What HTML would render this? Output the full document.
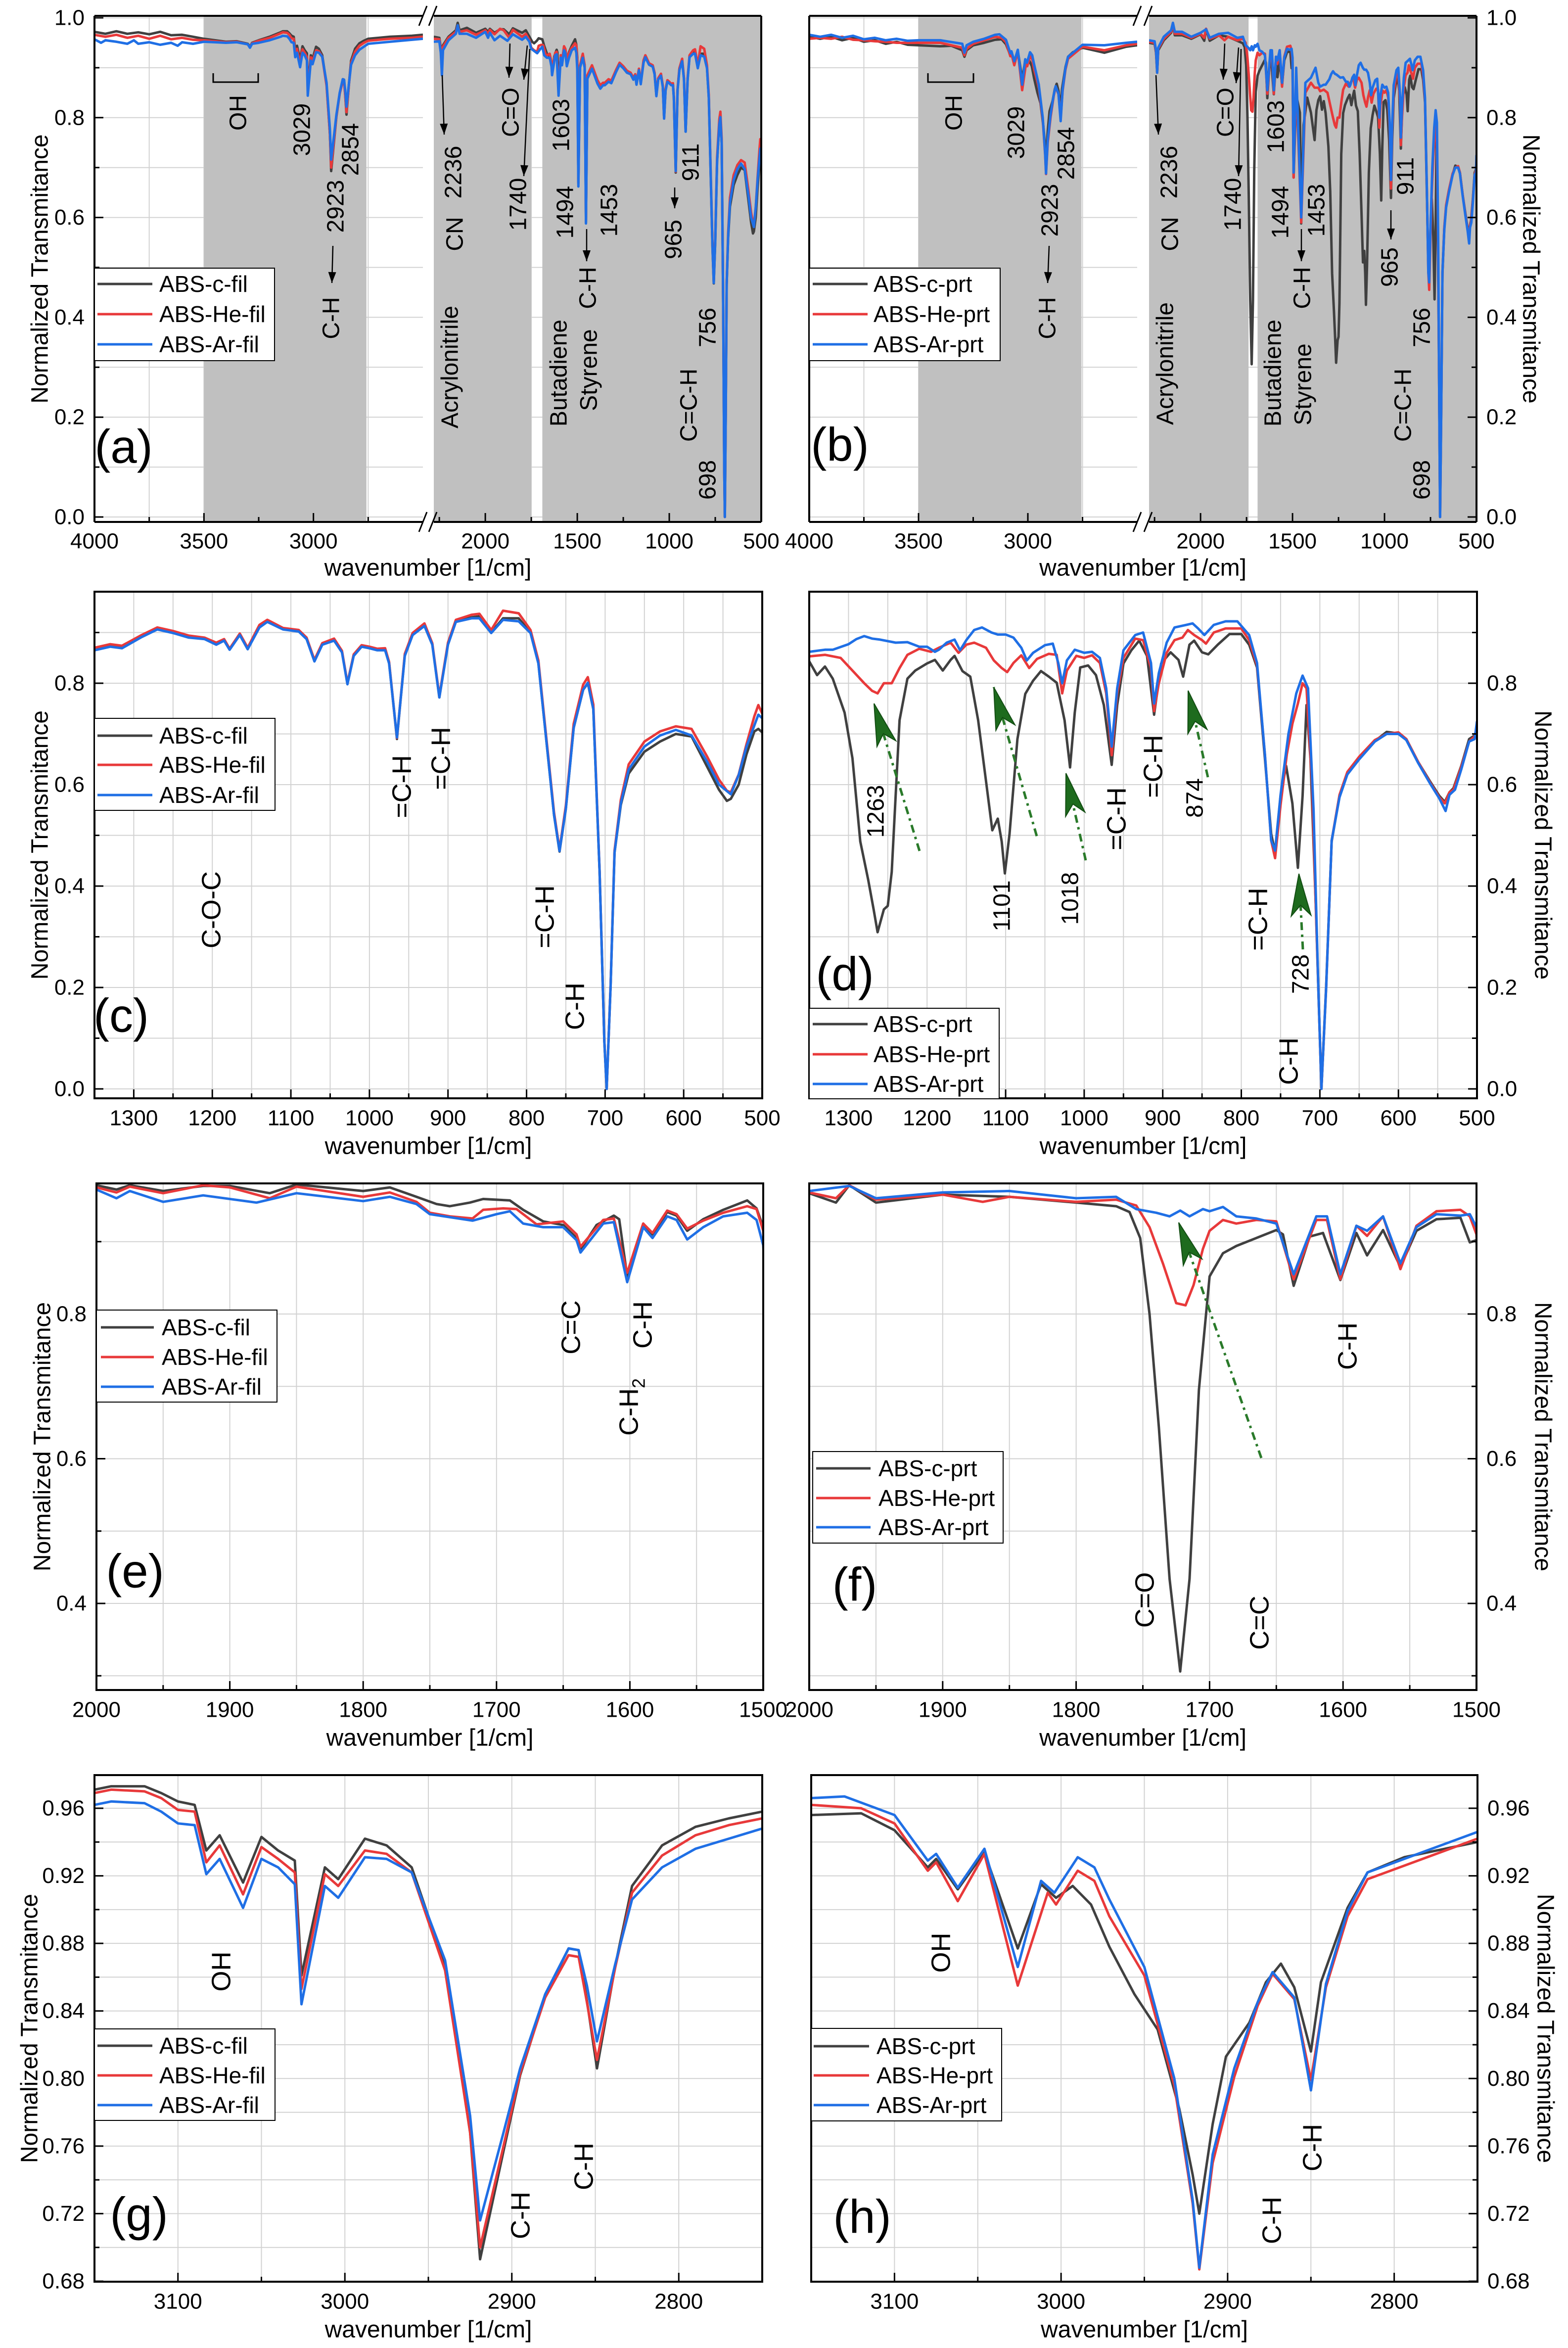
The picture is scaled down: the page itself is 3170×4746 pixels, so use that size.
<!DOCTYPE html>
<html>
<head>
<meta charset="utf-8">
<style>
  html,body{margin:0;padding:0;background:#fff;}
  svg{display:block;font-family:"Liberation Sans",Arial,sans-serif;}
</style>
</head>
<body>
<svg id="chart" xmlns="http://www.w3.org/2000/svg" width="3170" height="4746" viewBox="0 0 3170 4746">
  <rect x="0" y="0" width="3170" height="4746" fill="#fff"/>
  <defs id="defs"></defs>
</svg>
<script>
// ---------------- DATA: [wavenumber (1/cm), normalized transmittance] ----------------
const filC = [[4000,.972],[3950,.968],[3900,.973],[3850,.968],[3800,.971],[3750,.967],[3700,.972],[3650,.965],[3600,.966],[3550,.962],[3500,.958],[3450,.955],[3400,.952],[3350,.953],[3300,.948],[3290,.942],[3280,.95],[3250,.955],[3200,.962],[3150,.971],[3140,.973],[3120,.973],[3110,.969],[3100,.964],[3090,.962],[3083,.935],[3075,.944],[3061,.916],[3050,.943],[3040,.935],[3030,.929],[3026,.861],[3012,.925],[3004,.918],[2988,.942],[2975,.938],[2960,.925],[2940,.867],[2925,.768],[2919,.693],[2905,.757],[2895,.802],[2880,.849],[2866,.877],[2860,.876],[2855,.846],[2849,.806],[2838,.867],[2828,.914],[2810,.938],[2790,.949],[2770,.954],[2750,.958],[2650,.962],[2550,.964],[2500,.966],
[2280,.962],[2250,.96],[2242,.94],[2236,.895],[2230,.945],[2200,.962],[2160,.975],[2150,.99],[2140,.975],[2100,.98],[2050,.97],
[2000,.978],[1985,.972],[1975,.978],[1950,.970],[1920,.977],[1900,.977],[1870,.967],[1850,.979],[1800,.970],[1780,.975],[1760,.962],[1745,.952],[1735,.949],[1720,.954],[1710,.959],[1690,.957],[1680,.944],[1665,.928],[1650,.923],[1640,.905],[1637,.889],[1625,.923],[1612,.936],[1608,.931],[1602,.852],[1590,.925],[1583,.910],[1572,.941],[1565,.936],[1557,.915],[1545,.931],[1530,.944],[1512,.957],[1505,.946],[1500,.920],
[1494,.67],[1485,.905],[1470,.925],[1460,.905],[1453,.59],[1445,.88],[1420,.9],[1390,.872],[1375,.862],[1360,.868],
[1350,.868],[1330,.875],[1315,.872],[1290,.894],[1270,.909],[1250,.902],[1230,.893],[1210,.889],[1195,.878],[1185,.886],[1178,.868],[1165,.897],[1155,.869],[1140,.912],[1130,.923],[1110,.908],[1090,.904],[1080,.889],[1070,.845],[1060,.878],[1045,.886],[1035,.863],[1028,.80],[1020,.856],[1010,.874],[1000,.871],[990,.867],[980,.867],[975,.841],[965,.69],[955,.856],[945,.897],[930,.915],[920,.878],[911,.772],[900,.878],[890,.922],[870,.93],[860,.932],[845,.9],[830,.928],[810,.928],[795,.9],[785,.84],[775,.69],[765,.54],[758,.468],[750,.552],[740,.712],[728,.787],[722,.80],[715,.749],[707,.428],[701,.093],[698,0.0],[693,.204],[688,.466],[680,.56],[670,.622],[650,.665],[630,.685],[610,.70],[590,.695],[570,.635],[555,.59],[545,.568],[540,.572],[530,.6],[520,.66],[510,.705],[505,.71],[500,.703]];

const filHe = [[4000,.966],[3950,.962],[3900,.966],[3850,.960],[3800,.964],[3750,.958],[3700,.964],[3650,.957],[3600,.960],[3550,.956],[3500,.955],[3450,.953],[3400,.951],[3350,.952],[3300,.947],[3290,.941],[3280,.949],[3250,.954],[3200,.960],[3150,.969],[3140,.971],[3120,.970],[3110,.966],[3100,.959],[3090,.958],[3083,.928],[3075,.938],[3061,.909],[3050,.937],[3040,.930],[3030,.922],[3026,.853],[3012,.921],[3004,.914],[2988,.935],[2975,.933],[2960,.922],[2940,.864],[2925,.768],[2919,.700],[2905,.760],[2895,.803],[2880,.848],[2866,.873],[2860,.872],[2855,.845],[2849,.811],[2838,.866],[2828,.910],[2810,.932],[2790,.944],[2770,.950],[2750,.954],[2650,.958],[2550,.960],[2500,.962],
[2280,.958],[2250,.957],[2242,.937],[2236,.89],[2230,.942],[2200,.96],[2160,.972],[2150,.985],[2140,.972],[2100,.975],[2050,.966],
[2000,.975],[1985,.968],[1975,.976],[1950,.967],[1920,.978],[1900,.975],[1870,.960],[1850,.976],[1800,.962],[1780,.968],[1760,.955],[1750,.940],[1735,.935],[1718,.932],[1710,.944],[1695,.946],[1685,.945],[1670,.924],[1650,.928],[1640,.910],[1637,.893],[1620,.930],[1612,.932],[1602,.857],[1590,.925],[1583,.912],[1572,.943],[1565,.938],[1557,.918],[1545,.929],[1530,.940],[1512,.949],[1505,.945],[1500,.915],
[1494,.668],[1485,.905],[1470,.928],[1460,.905],[1453,.595],[1445,.885],[1420,.905],[1390,.875],[1375,.865],[1360,.870],
[1350,.870],[1330,.877],[1315,.874],[1290,.895],[1270,.910],[1250,.903],[1230,.894],[1210,.890],[1195,.880],[1185,.887],[1178,.868],[1165,.898],[1155,.870],[1140,.915],[1130,.925],[1110,.909],[1090,.905],[1080,.890],[1070,.846],[1060,.879],[1045,.888],[1035,.864],[1028,.80],[1020,.857],[1010,.875],[1000,.872],[990,.868],[980,.869],[975,.842],[965,.692],[955,.858],[945,.899],[930,.918],[920,.879],[911,.775],[900,.880],[890,.925],[870,.935],[860,.937],[845,.905],[830,.943],[810,.938],[795,.905],[785,.845],[775,.695],[765,.545],[758,.472],[750,.558],[740,.72],[728,.797],[722,.812],[715,.758],[707,.43],[701,.095],[698,0.0],[693,.206],[688,.47],[680,.57],[670,.64],[650,.685],[630,.705],[610,.715],[590,.71],[570,.655],[555,.61],[545,.588],[540,.585],[530,.62],[520,.68],[510,.735],[505,.757],[500,.74]];

const filAr = [[4000,.957],[3970,.950],[3950,.955],[3900,.952],[3850,.948],[3820,.955],[3800,.948],[3750,.951],[3700,.946],[3650,.950],[3620,.944],[3600,.951],[3550,.948],[3500,.952],[3450,.951],[3400,.950],[3350,.951],[3300,.947],[3290,.940],[3280,.948],[3250,.950],[3200,.955],[3150,.962],[3140,.964],[3120,.963],[3110,.958],[3100,.951],[3090,.950],[3083,.921],[3075,.930],[3061,.901],[3050,.930],[3040,.925],[3030,.915],[3026,.844],[3012,.914],[3004,.907],[2988,.931],[2975,.930],[2960,.922],[2940,.870],[2925,.778],[2919,.716],[2905,.768],[2895,.806],[2880,.850],[2866,.877],[2860,.876],[2855,.855],[2849,.822],[2838,.868],[2828,.906],[2810,.925],[2790,.936],[2770,.942],[2750,.948],[2650,.952],[2550,.956],[2500,.958],
[2280,.952],[2250,.953],[2242,.93],[2236,.885],[2230,.935],[2200,.955],[2160,.968],[2150,.985],[2140,.968],[2100,.968],[2050,.96],
[2000,.972],[1985,.960],[1975,.970],[1950,.955],[1920,.964],[1880,.954],[1850,.967],[1800,.956],[1780,.962],[1760,.952],[1750,.938],[1718,.929],[1700,.938],[1690,.942],[1680,.925],[1665,.920],[1650,.920],[1640,.902],[1637,.885],[1620,.925],[1612,.927],[1602,.844],[1590,.920],[1583,.905],[1572,.935],[1565,.930],[1557,.903],[1545,.920],[1530,.935],[1512,.940],[1505,.930],[1500,.895],
[1494,.662],[1485,.90],[1470,.92],[1460,.90],[1453,.588],[1445,.878],[1420,.898],[1390,.868],[1375,.858],[1360,.865],
[1350,.865],[1330,.872],[1315,.869],[1290,.891],[1270,.906],[1250,.899],[1230,.890],[1210,.887],[1195,.876],[1185,.884],[1178,.866],[1165,.895],[1155,.867],[1140,.910],[1130,.921],[1110,.906],[1090,.902],[1080,.887],[1070,.843],[1060,.876],[1045,.884],[1035,.861],[1028,.798],[1020,.854],[1010,.872],[1000,.869],[990,.865],[980,.865],[975,.839],[965,.693],[955,.854],[945,.895],[930,.913],[920,.876],[911,.772],[900,.876],[890,.921],[870,.928],[860,.928],[845,.899],[830,.925],[810,.922],[795,.899],[785,.839],[775,.690],[765,.540],[758,.469],[750,.552],[740,.712],[728,.787],[722,.801],[715,.749],[707,.428],[701,.093],[698,0.0],[693,.204],[688,.466],[680,.563],[670,.630],[650,.675],[630,.697],[610,.708],[590,.697],[570,.645],[555,.600],[540,.581],[530,.619],[520,.675],[505,.738],[500,.731]];

const prtC = [[4000,.962],[3950,.958],[3900,.962],[3850,.955],[3800,.96],[3750,.952],[3700,.955],[3650,.948],[3600,.952],[3550,.946],[3500,.945],[3450,.944],[3400,.943],[3350,.944],[3300,.935],[3290,.922],[3280,.935],[3250,.945],[3200,.95],[3150,.956],[3120,.957],[3100,.947],[3080,.925],[3075,.930],[3062,.912],[3046,.934],[3026,.877],[3012,.915],[3003,.907],[2993,.914],[2982,.903],[2971,.878],[2956,.850],[2942,.829],[2929,.782],[2921,.743],[2917,.720],[2909,.773],[2901,.813],[2887,.833],[2877,.857],[2868,.868],[2860,.854],[2850,.816],[2844,.857],[2828,.901],[2816,.922],[2794,.931],[2750,.940],[2650,.93],[2550,.942],[2500,.945],
[2280,.95],[2250,.948],[2242,.93],[2236,.89],[2230,.935],[2200,.955],[2160,.97],[2150,.985],[2140,.965],[2100,.965],[2050,.958],
[2000,.967],[1980,.954],[1970,.978],[1950,.954],[1900,.965],[1850,.962],[1800,.954],[1770,.949],[1760,.941],[1752,.905],[1745,.80],[1738,.643],[1730,.434],[1722,.306],[1715,.434],[1708,.695],[1700,.852],[1690,.884],[1680,.894],[1665,.905],[1650,.916],[1645,.910],[1637,.839],[1625,.907],[1615,.912],[1602,.847],[1590,.912],[1582,.881],[1570,.916],[1557,.865],[1545,.915],[1530,.931],[1512,.933],[1505,.899],[1500,.902],
[1494,.68],[1480,.846],[1460,.81],[1453,.588],[1440,.785],[1420,.84],[1400,.81],[1380,.755],[1370,.815],[1360,.835],
[1350,.843],[1340,.816],[1330,.833],[1320,.809],[1305,.742],[1295,.652],[1285,.488],[1275,.413],[1268,.354],[1263,.309],[1255,.354],[1250,.361],[1245,.428],[1240,.578],[1235,.727],[1225,.809],[1215,.825],[1200,.839],[1190,.846],[1180,.825],[1170,.846],[1165,.854],[1155,.824],[1145,.813],[1135,.727],[1125,.607],[1117,.510],[1110,.533],[1105,.488],[1101,.425],[1095,.503],[1085,.690],[1075,.779],[1065,.805],[1055,.824],[1045,.813],[1035,.801],[1030,.764],[1025,.727],[1018,.634],[1012,.742],[1005,.831],[995,.835],[985,.816],[975,.757],[965,.639],[958,.757],[950,.839],[940,.865],[930,.884],[920,.854],[911,.738],[902,.839],[890,.861],[880,.846],[874,.813],[866,.876],[860,.884],[850,.861],[842,.857],[830,.876],[815,.897],[800,.897],[790,.876],[780,.831],[770,.652],[762,.503],[757,.466],[750,.578],[743,.637],[735,.563],[728,.436],[722,.578],[717,.757],[712,.652],[705,.354],[698,0.0],[692,.204],[685,.488],[675,.578],[665,.622],[650,.652],[630,.686],[615,.704],[600,.701],[590,.690],[575,.645],[560,.607],[548,.578],[541,.566],[535,.585],[530,.593],[520,.637],[510,.690],[503,.697],[500,.712]];

const prtHe = [[4000,.958],[3950,.96],[3900,.958],[3850,.962],[3800,.956],[3750,.955],[3700,.953],[3650,.952],[3600,.950],[3550,.950],[3500,.950],[3400,.950],[3300,.94],[3290,.925],[3280,.938],[3250,.948],[3200,.955],[3150,.962],[3120,.960],[3100,.951],[3080,.923],[3075,.928],[3062,.905],[3046,.933],[3026,.855],[3008,.910],[3003,.903],[2990,.923],[2980,.917],[2971,.896],[2950,.861],[2932,.796],[2921,.726],[2917,.687],[2909,.750],[2896,.801],[2882,.843],[2873,.862],[2860,.847],[2850,.799],[2841,.854],[2828,.896],[2816,.918],[2750,.942],[2650,.935],[2550,.945],[2500,.948],
[2280,.952],[2250,.95],[2242,.932],[2236,.89],[2230,.938],[2200,.958],[2160,.972],[2150,.988],[2140,.968],[2100,.968],[2050,.96],
[2000,.968],[1980,.960],[1970,.978],[1950,.958],[1900,.965],[1870,.955],[1850,.962],[1800,.955],[1770,.958],[1755,.950],[1745,.920],[1735,.870],[1725,.815],[1718,.812],[1712,.840],[1705,.890],[1700,.915],[1690,.930],[1680,.925],[1665,.930],[1650,.928],[1637,.848],[1620,.930],[1612,.930],[1602,.848],[1590,.922],[1582,.908],[1570,.935],[1557,.862],[1545,.922],[1530,.942],[1512,.944],[1505,.935],[1500,.910],
[1494,.68],[1480,.88],[1453,.59],[1430,.85],[1400,.87],[1380,.86],[1360,.86],
[1350,.853],[1330,.856],[1310,.850],[1295,.825],[1280,.80],[1270,.785],[1263,.78],[1255,.80],[1245,.80],[1235,.83],[1225,.856],[1210,.868],[1195,.862],[1185,.87],[1170,.88],[1160,.86],[1150,.876],[1140,.880],[1125,.870],[1115,.845],[1105,.83],[1098,.822],[1090,.84],[1080,.855],[1070,.83],[1060,.848],[1045,.858],[1035,.856],[1028,.78],[1022,.825],[1010,.854],[1000,.850],[990,.855],[980,.840],[972,.78],[965,.658],[958,.78],[950,.85],[935,.888],[925,.885],[915,.83],[911,.745],[905,.80],[895,.86],[885,.885],[875,.890],[868,.905],[860,.895],[850,.885],[845,.878],[835,.90],[820,.908],[800,.908],[790,.885],[780,.835],[770,.66],[762,.49],[757,.455],[750,.56],[742,.66],[735,.72],[728,.76],[722,.80],[717,.79],[710,.60],[705,.35],[698,0.0],[692,.2],[685,.49],[675,.58],[665,.625],[650,.655],[630,.688],[615,.70],[600,.703],[590,.69],[575,.645],[560,.605],[548,.575],[541,.563],[535,.585],[530,.59],[520,.635],[510,.685],[503,.695],[500,.712]];

const prtAr = [[4000,.966],[3950,.962],[3900,.966],[3850,.960],[3800,.964],[3750,.957],[3700,.960],[3650,.955],[3600,.958],[3550,.954],[3500,.955],[3400,.955],[3300,.948],[3290,.93],[3280,.945],[3250,.952],[3200,.958],[3150,.966],[3130,.967],[3100,.956],[3080,.929],[3075,.933],[3062,.913],[3046,.936],[3026,.866],[3012,.917],[3004,.910],[2990,.931],[2980,.925],[2971,.906],[2950,.866],[2932,.80],[2921,.728],[2917,.688],[2909,.755],[2896,.806],[2882,.845],[2873,.863],[2860,.848],[2850,.793],[2841,.856],[2828,.899],[2816,.922],[2750,.946],[2650,.945],[2550,.95],[2500,.952],
[2280,.955],[2250,.953],[2242,.935],[2236,.89],[2230,.94],[2200,.962],[2160,.975],[2150,.99],[2140,.972],[2100,.972],[2050,.962],
[2000,.970],[1970,.977],[1950,.960],[1900,.968],[1850,.970],[1800,.960],[1770,.962],[1755,.945],[1740,.940],[1730,.935],[1722,.943],[1715,.935],[1705,.945],[1700,.942],[1690,.948],[1680,.935],[1665,.932],[1650,.925],[1637,.855],[1620,.935],[1612,.935],[1602,.855],[1590,.922],[1582,.915],[1570,.935],[1557,.870],[1545,.920],[1530,.938],[1512,.936],[1505,.938],[1500,.920],
[1494,.69],[1480,.90],[1453,.60],[1430,.87],[1400,.88],[1375,.90],[1360,.87],
[1350,.862],[1330,.866],[1320,.866],[1300,.877],[1290,.887],[1280,.893],[1270,.888],[1260,.886],[1240,.880],[1225,.881],[1210,.872],[1200,.872],[1190,.862],[1185,.866],[1175,.880],[1165,.886],[1158,.865],[1150,.885],[1140,.905],[1130,.91],[1118,.900],[1110,.896],[1100,.896],[1090,.890],[1080,.87],[1073,.845],[1065,.86],[1050,.875],[1040,.878],[1033,.84],[1028,.80],[1022,.845],[1012,.866],[1000,.860],[990,.862],[980,.85],[972,.79],[965,.675],[958,.79],[950,.865],[935,.895],[925,.90],[915,.84],[911,.76],[905,.82],[895,.88],[885,.910],[870,.915],[862,.918],[855,.908],[847,.895],[835,.915],[820,.922],[805,.922],[790,.895],[780,.84],[770,.66],[762,.49],[757,.47],[750,.58],[740,.70],[730,.78],[722,.815],[715,.79],[708,.55],[702,.20],[698,0.0],[692,.2],[685,.49],[675,.575],[665,.62],[650,.65],[630,.685],[615,.70],[600,.70],[590,.688],[575,.643],[560,.603],[548,.573],[540,.548],[535,.58],[528,.59],[520,.63],[510,.685],[503,.69],[500,.725]];

const seriesColors = ['#404040','#e8393a','#1f6fe5'];
const filNames = ['ABS-c-fil','ABS-He-fil','ABS-Ar-fil'];
const prtNames = ['ABS-c-prt','ABS-He-prt','ABS-Ar-prt'];

// tick label arrays
const ticksY01 = [0,0.2,0.4,0.6,0.8,1.0];
const ticksYC = [0,0.2,0.4,0.6,0.8];
const ticksYE = [0.4,0.6,0.8];
const ticksYG = [0.68,0.72,0.76,0.80,0.84,0.88,0.92,0.96];
const ticksXA_left = [4000,3500,3000];
const ticksXA_right = [2000,1500,1000,500];
const ticksXC = [1300,1200,1100,1000,900,800,700,600,500];
const ticksXE = [2000,1900,1800,1700,1600,1500];
const ticksXG = [3100,3000,2900,2800];

// ---------------- helpers ----------------
const NS = 'http://www.w3.org/2000/svg';
const svg = document.getElementById('chart');
const defs = document.getElementById('defs');
function mk(tag, attrs, parent){
  const e = document.createElementNS(NS, tag);
  for (const k in attrs) e.setAttribute(k, attrs[k]);
  (parent||svg).appendChild(e);
  return e;
}
function txt(str, x, y, size, anchor, parent){
  const t = mk('text', {x:x, y:y, 'font-size':size, 'text-anchor':anchor||'middle', 'dominant-baseline':'central', fill:'#000'}, parent);
  t.textContent = str;
  return t;
}
function rotTxt(str, cx, cy, size, parent){
  const x = cx + 0.36*size;
  const t = mk('text', {x:x, y:cy, 'font-size':size, 'text-anchor':'middle', fill:'#000', transform:'rotate(-90 '+x+' '+cy+')'}, parent);
  t.textContent = str;
  return t;
}
function rotTxtR(str, cx, cy, size, parent){
  const x = cx - 0.36*size;
  const t = mk('text', {x:x, y:cy, 'font-size':size, 'text-anchor':'middle', fill:'#000', transform:'rotate(90 '+x+' '+cy+')'}, parent);
  t.textContent = str;
  return t;
}
function fmt(v, d){ return v.toFixed(d); }

// ---------------- layout ----------------
const L = {
  a:{x0:191,x1:1539,y0:32,y1:1055,va:0,ya:1045,vb:1,yb:36,side:'l',seg:true,lEnd:855,rStart:877,
     gray:[[3500,2758],[2280,1750],[1690,500]], data:[filC,filHe,filAr], names:filNames, tickY:ticksY01, ydec:1,
     minY:[0.1,0.3,0.5,0.7,0.9], tickLblY:1094, titleY:1148, yTitleX:79},
  b:{x0:1636,x1:2985,y0:32,y1:1055,va:0,ya:1045,vb:1,yb:36,side:'r',seg:true,lEnd:2299,rStart:2323,
     gray:[[3500,2755],[2280,1739],[1690,500]], data:[prtC,prtHe,prtAr], names:prtNames, tickY:ticksY01, ydec:1,
     minY:[0.1,0.3,0.5,0.7,0.9], tickLblY:1094, titleY:1148, yTitleX:3097},
  c:{x0:191,x1:1541,y0:1196,y1:2220,va:0,ya:2201,vb:0.8,yb:1381,side:'l',wmax:1350,wmin:500,
     data:[filC,filHe,filAr], names:filNames, tickY:ticksYC, ydec:1, minY:[0.1,0.3,0.5,0.7,0.9], tickX:ticksXC, minStep:50,
     tickLblY:2260, titleY:2317, yTitleX:79},
  d:{x0:1636,x1:2986,y0:1196,y1:2220,va:0,ya:2201,vb:0.8,yb:1381,side:'r',wmax:1350,wmin:500,
     data:[prtC,prtHe,prtAr], names:prtNames, tickY:ticksYC, ydec:1, minY:[0.1,0.3,0.5,0.7,0.9], tickX:ticksXC, minStep:50,
     tickLblY:2260, titleY:2317, yTitleX:3121},
  e:{x0:195,x1:1543,y0:2392,y1:3416,va:0.4,ya:3241,vb:0.8,yb:2656,side:'l',wmax:2000,wmin:1500,
     data:[filC,filHe,filAr], names:filNames, tickY:ticksYE, ydec:1, minY:[0.3,0.5,0.7,0.9], tickX:ticksXE, minStep:50,
     tickLblY:3456, titleY:3513, yTitleX:84},
  f:{x0:1636,x1:2985,y0:2392,y1:3416,va:0.4,ya:3241,vb:0.8,yb:2656,side:'r',wmax:2000,wmin:1500,
     data:[prtC,prtHe,prtAr], names:prtNames, tickY:ticksYE, ydec:1, minY:[0.3,0.5,0.7,0.9], tickX:ticksXE, minStep:50,
     tickLblY:3456, titleY:3513, yTitleX:3121},
  g:{x0:191,x1:1541,y0:3588,y1:4612,va:0.68,ya:4611,vb:0.96,yb:3655,side:'l',wmax:3150,wmin:2750,
     data:[filC,filHe,filAr], names:filNames, tickY:ticksYG, ydec:2, minY:[0.70,0.74,0.78,0.82,0.86,0.90,0.94,0.98], tickX:ticksXG, minStep:50,
     tickLblY:4652, titleY:4709, yTitleX:58},
  h:{x0:1640,x1:2987,y0:3588,y1:4612,va:0.68,ya:4611,vb:0.96,yb:3655,side:'r',wmax:3150,wmin:2750,
     data:[prtC,prtHe,prtAr], names:prtNames, tickY:ticksYG, ydec:2, minY:[0.70,0.74,0.78,0.82,0.86,0.90,0.94,0.98], tickX:ticksXG, minStep:50,
     tickLblY:4652, titleY:4709, yTitleX:3126}
};

function yScale(p, v){ return p.ya + (v - p.va)*(p.yb - p.ya)/(p.vb - p.va); }
function xScale(p, w){
  if (p.seg){
    if (w >= 2390) return p.x0 + (4000 - w)*(p.lEnd - p.x0)/1500;
    return p.x1 - (w - 500)*(p.x1 - p.rStart)/1780;
  }
  return p.x0 + (p.wmax - w)*(p.x1 - p.x0)/(p.wmax - p.wmin);
}

function gridLineV(p, x, g){
  const l = mk('line',{x1:x,y1:p.y0,x2:x,y2:p.y1,stroke:'#d2d2d2','stroke-width':2},g);
  
  
}
function gridLineH(p, y, x0, x1, g){
  const l = mk('line',{x1:x0,y1:y,x2:x1,y2:y,stroke:'#d2d2d2','stroke-width':2},g);
  
  
}

function drawPanel(key){
  const p = L[key];
  const g = mk('g',{});
  
  

  const cp = mk('clipPath',{id:'clip-'+key},defs);
  if (p.seg){
    mk('rect',{x:p.x0,y:p.y0,width:p.lEnd-p.x0,height:p.y1-p.y0},cp);
    mk('rect',{x:p.rStart,y:p.y0,width:p.x1-p.rStart,height:p.y1-p.y0},cp);
  } else {
    mk('rect',{x:p.x0,y:p.y0,width:p.x1-p.x0,height:p.y1-p.y0},cp);
  }

  const gg = mk('g',{},g);
  
  
  const allY = p.tickY.concat(p.minY);
  allY.forEach(v=>{
    const y = yScale(p,v);
    if (y < p.y0 || y > p.y1) return;
    if (p.seg){ gridLineH(p,y,p.x0,p.lEnd,gg); gridLineH(p,y,p.rStart,p.x1,gg); }
    else gridLineH(p,y,p.x0,p.x1,gg);
  });
  let xMaj=[], xMin=[];
  if (p.seg){
    xMaj = ticksXA_left.concat(ticksXA_right);
    xMin = [3750,3250,2750,2250,1750,1250,750];
  } else {
    xMaj = p.tickX;
    for (let w = p.wmax; w >= p.wmin; w -= p.minStep){ if (xMaj.indexOf(w) < 0) xMin.push(w); }
  }
  xMaj.concat(xMin).forEach(w=>{
    const x = xScale(p,w);
    if (x <= p.x0+1 || x >= p.x1-1) return;
    gridLineV(p,x,gg);
  });

  if (p.gray){
    p.gray.forEach(r=>{
      const xa = xScale(p,r[0]), xb = xScale(p,r[1]);
      const s = mk('rect',{x:xa,y:p.y0,width:xb-xa,height:p.y1-p.y0,fill:'#c0c0c0'},g);
      
      
    });
  }

  const sg = mk('g',{'clip-path':'url(#clip-'+key+')'},g);
  
  
  p.data.forEach((arr,i)=>{
    let parts = [];
    if (p.seg){
      parts.push(arr.filter(d=>d[0]>=2400));
      parts.push(arr.filter(d=>d[0]<=2300));
    } else {
      let idx = [];
      arr.forEach((d,j)=>{ if (d[0] <= p.wmax && d[0] >= p.wmin) idx.push(j); });
      const lo = Math.max(0, idx[0]-1), hi = Math.min(arr.length-1, idx[idx.length-1]+1);
      parts.push(arr.slice(lo, hi+1));
    }
    parts.forEach(part=>{
      const pts = part.map(d=>fmt(xScale(p,d[0]),1)+','+fmt(yScale(p,d[1]),1)).join(' ');
      const pl = mk('polyline',{points:pts,fill:'none',stroke:seriesColors[i],'stroke-width':5,'stroke-linejoin':'round'},sg);
      
      
    });
  });

  const fr = mk('g',{stroke:'#000','stroke-width':4,fill:'none'},g);
  
  
  if (p.seg){
    mk('line',{x1:p.x0,y1:p.y0,x2:p.lEnd,y2:p.y0},fr);
    mk('line',{x1:p.x0,y1:p.y1,x2:p.lEnd,y2:p.y1},fr);
    mk('line',{x1:p.rStart,y1:p.y0,x2:p.x1,y2:p.y0},fr);
    mk('line',{x1:p.rStart,y1:p.y1,x2:p.x1,y2:p.y1},fr);
    mk('line',{x1:p.x0,y1:p.y0,x2:p.x0,y2:p.y1},fr);
    mk('line',{x1:p.x1,y1:p.y0,x2:p.x1,y2:p.y1},fr);
    [p.y0,p.y1].forEach(yy=>{
      const b1 = mk('line',{x1:p.lEnd-8,y1:yy+20,x2:p.lEnd+8,y2:yy-20,'stroke-width':3},fr);
      
      const b2 = mk('line',{x1:p.rStart-10,y1:yy+20,x2:p.rStart+6,y2:yy-20,'stroke-width':3},fr);
      
    });
  } else {
    mk('rect',{x:p.x0,y:p.y0,width:p.x1-p.x0,height:p.y1-p.y0},fr);
  }

  const yx = p.side==='l' ? p.x0 : p.x1;
  const dir = p.side==='l' ? 1 : -1;
  const ytg = mk('g',{},g);
  
  
  p.tickY.forEach(v=>{
    const y = yScale(p,v);
    mk('line',{x1:yx,y1:y,x2:yx+dir*18,y2:y,stroke:'#000','stroke-width':3},ytg);
    const t = txt(fmt(v,p.ydec), p.side==='l' ? p.x0-20 : p.x1+20, y, 44, p.side==='l'?'end':'start', ytg);
    
    
  });
  p.minY.forEach(v=>{
    const y = yScale(p,v);
    if (y < p.y0 || y > p.y1) return;
    mk('line',{x1:yx,y1:y,x2:yx+dir*10,y2:y,stroke:'#000','stroke-width':3},ytg);
  });
  let yt;
  if (p.side==='l') yt = rotTxt('Normalized Transmitance', p.yTitleX, (p.y0+p.y1)/2, 48, ytg);
  else yt = rotTxtR('Normalized Transmitance', p.yTitleX, (p.y0+p.y1)/2, 48, ytg);
  
  

  const xtg = mk('g',{},g);
  
  
  xMaj.forEach(w=>{
    const x = xScale(p,w);
    mk('line',{x1:x,y1:p.y1,x2:x,y2:p.y1-18,stroke:'#000','stroke-width':3},xtg);
    const t = txt(String(w), x, p.tickLblY, 44, 'middle', xtg);
    
    
  });
  xMin.forEach(w=>{
    const x = xScale(p,w);
    mk('line',{x1:x,y1:p.y1,x2:x,y2:p.y1-10,stroke:'#000','stroke-width':3},xtg);
  });
  const xt = txt('wavenumber [1/cm]', (p.x0+p.x1)/2, p.titleY, 48, 'middle', xtg);
  
  
  return g;
}

function legend(key, bx, by, bw, bh, rows, lx0, lx1, tx){
  const p = L[key];
  const g = mk('g',{});
  
  
  mk('rect',{x:bx,y:by,width:bw,height:bh,fill:'#fff',stroke:'#000','stroke-width':2},g);
  rows.forEach((ry,i)=>{
    const e = mk('g',{},g);
    
    
    mk('line',{x1:lx0,y1:ry,x2:lx1,y2:ry,stroke:seriesColors[i],'stroke-width':5},e);
    txt(p.names[i], tx, ry, 46, 'start', e);
  });
}

function arrowBlack(x1,y1,x2,y2){
  const g = mk('g',{});
  
  
  mk('line',{x1:x1,y1:y1,x2:x2,y2:y2,stroke:'#000','stroke-width':2.5},g);
  const a = Math.atan2(y2-y1,x2-x1), L1=22, W=8;
  const bx = x2 - L1*Math.cos(a), by = y2 - L1*Math.sin(a);
  const pts = [x2+','+y2, (bx+W*Math.sin(a))+','+(by-W*Math.cos(a)), (bx-W*Math.sin(a))+','+(by+W*Math.cos(a))].join(' ');
  mk('polygon',{points:pts,fill:'#000'},g);
}
function arrowGreen(tx,ty,hx,hy){
  const g = mk('g',{});
  
  
  mk('line',{x1:tx,y1:ty,x2:hx,y2:hy,stroke:'#2a7a2a','stroke-width':5,'stroke-dasharray':'16,9,5,9'},g);
  const a = Math.atan2(hy-ty,hx-tx), L1=85, W=20;
  const bx = hx - L1*Math.cos(a), by = hy - L1*Math.sin(a);
  const nx = hx - 0.75*L1*Math.cos(a), ny = hy - 0.75*L1*Math.sin(a);
  const pts = [hx+','+hy, (bx+W*Math.sin(a))+','+(by-W*Math.cos(a)), nx+','+ny, (bx-W*Math.sin(a))+','+(by+W*Math.cos(a))].join(' ');
  mk('polygon',{points:pts,fill:'#1e6b1e',stroke:'#124d12','stroke-width':2},g);
}
function ann(str,cx,cy,size){
  const t = rotTxt(str,cx,cy,size||48);
  
  
  return t;
}
function panelLetter(str,x,y){
  const t = txt(str,x,y,96,'middle');
  
  
}
function ohBracket(x0,x1,y){
  const b = mk('polyline',{points:x0+','+(y-18)+' '+x0+','+y+' '+x1+','+y+' '+x1+','+(y-18),fill:'none',stroke:'#000','stroke-width':3});
  
  
}

['a','b','c','d','e','f','g','h'].forEach(k=>drawPanel(k));

// ----- Panel a annotations -----
ohBracket(431,522,166);
ann('OH',480,228); ann('3029',609,262); ann('2854',707,302); ann('2923',677,417);
arrowBlack(673,497,671,572); ann('C-H',668,643);
arrowBlack(894,152,898,272); ann('2236',915,348); ann('CN',918,473);
ann('Acrylonitrile',908,742);
ann('C=O',1031,227); arrowBlack(1031,88,1029,157); arrowBlack(1066,92,1059,161); arrowBlack(1071,99,1059,356);
ann('1740',1046,413); ann('1603',1133,253); ann('1494',1141,429); ann('1453',1230,425);
arrowBlack(1186,463,1186,528); ann('C-H',1187,582);
ann('Butadiene',1128,754); ann('Styrene',1189,748);
ann('911',1395,328); arrowBlack(1364,379,1364,421); ann('965',1360,484);
ann('756',1429,662); ann('C=C-H',1391,819); ann('698',1429,970);
panelLetter('(a)',250,903);
legend('a',191,542,364,187,[574,635,696],197,308,322);

// ----- Panel b annotations -----
ohBracket(1876,1968,166);
ann('OH',1927,228); ann('3029',2053,268); ann('2854',2154,310); ann('2923',2121,425);
arrowBlack(2121,497,2118,572); ann('C-H',2116,643);
arrowBlack(2337,152,2342,272); ann('2236',2362,348); ann('CN',2364,473);
ann('Acrylonitrile',2354,735);
ann('C=O',2476,227); arrowBlack(2476,88,2473,161); arrowBlack(2504,96,2499,168); arrowBlack(2509,99,2504,356);
ann('1740',2491,413); ann('1603',2578,256); ann('1494',2587,429); ann('1453',2660,425);
arrowBlack(2631,463,2631,528); ann('C-H',2631,582);
ann('Butadiene',2572,754); ann('Styrene',2633,777);
ann('911',2840,356); arrowBlack(2812,425,2812,484); ann('965',2808,540);
ann('756',2873,662); ann('C=C-H',2835,819); ann('698',2873,970);
panelLetter('(b)',1698,899);
legend('b',1636,542,386,187,[574,635,696],1643,1754,1766);

// ----- Panel c -----
ann('=C-H',811,1590,54); ann('=C-H',890,1533,54); ann('C-O-C',426,1839,54);
ann('=C-H',1100,1853,54); ann('C-H',1161,2034,54);
panelLetter('(c)',245,2053);
legend('c',191,1452,365,186,[1487,1546,1607],197,308,322);

// ----- Panel d -----
arrowGreen(1859,1720,1767,1422);
arrowGreen(2096,1690,2009,1389);
arrowGreen(2195,1739,2155,1563);
arrowGreen(2442,1571,2402,1396);
arrowGreen(2634,1919,2626,1766);
ann('1263',1769,1640); ann('1101',2024,1831); ann('1018',2162,1816);
ann('=C-H',2256,1655,54); ann('=C-H',2330,1549,54); ann('874',2414,1613);
ann('=C-H',2542,1858,54); ann('728',2628,1969); ann('C-H',2604,2145,54);
panelLetter('(d)',1708,1969);
legend('d',1636,2038,384,183,[2070,2131,2191],1643,1754,1766);

// ----- Panel e -----
ann('C=C',1153,2683,54); ann('C-H',1298,2678,54);
(function(){
  const cx=1270, cy=2844, size=54, x=cx+0.36*size;
  const t = mk('text',{x:x,y:cy,'font-size':size,'text-anchor':'middle',fill:'#000',transform:'rotate(-90 '+x+' '+cy+')'});
  
  
  t.appendChild(document.createTextNode('C-H'));
  const s = mk('tspan',{'font-size':36,dy:14},t);
  s.textContent = '2';
})();
panelLetter('(e)',273,3176);
legend('e',195,2648,365,186,[2683,2743,2803],204,311,327);

// ----- Panel f -----
arrowGreen(2550,2947,2383,2471);
ann('C=O',2313,3234,54); ann('C=C',2545,3280,54); ann('C-H',2723,2721,54);
panelLetter('(f)',1728,3203);
legend('f',1643,2934,385,185,[2968,3028,3087],1650,1760,1776);

// ----- Panel g -----
ann('OH',446,3985,54); ann('C-H',1051,4478,54); ann('C-H',1179,4379,54);
panelLetter('(g)',281,4476);
legend('g',191,4101,365,185,[4135,4195,4255],197,308,322);

// ----- Panel h -----
ann('OH',1901,3947,54); ann('C-H',2652,4341,54); ann('C-H',2570,4488,54);
panelLetter('(h)',1743,4481);
legend('h',1640,4100,385,187,[4136,4195,4255],1645,1757,1772);
</script>
</body>
</html>
